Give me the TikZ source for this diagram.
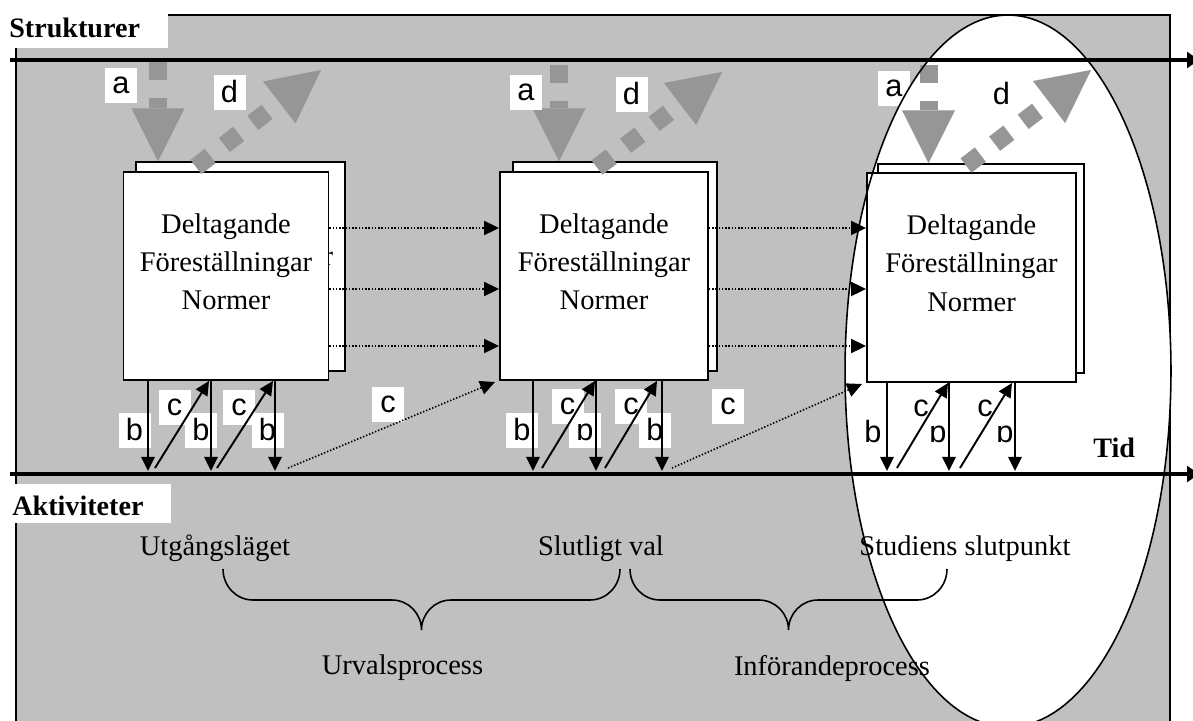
\documentclass[tikz,border=0pt]{standalone}
\usepackage{fontspec}
\setmainfont{Liberation Serif}
\newfontfamily\labelfont{Liberation Sans}
\usetikzlibrary{arrows.meta,calc}
\definecolor{panelgray}{RGB}{192,192,192}
\definecolor{flowgray}{RGB}{150,150,150}
\newcommand{\PX}{0.02cm}

\begin{document}
\begin{tikzpicture}[x=0.02cm,y=-0.02cm,
  axis/.style={line width=2.8pt,-{Triangle[length=6.8pt,width=9pt]}},
  flow/.style={draw=flowgray,line width=10.24pt,dash pattern=on 10.24pt off 10.24pt,
    -{Triangle[length=30pt,width=30pt,line width=0.01pt]}},
  thinarrow/.style={line width=1.1pt,-{Triangle[length=8pt,width=7.6pt]}},
  dotarrow/.style={line width=0.95pt,dash pattern=on 0.8pt off 1.05pt,
    -{Triangle[length=8.5pt,width=8pt]}},
  card/.style={draw,fill=white,line width=1.1pt,inner sep=0pt},
  cardtext/.style={align=center,inner sep=0pt,font=\fontsize{16.2}{21.9}\selectfont},
  lbl/.style={fill=white,inner sep=0pt,minimum width=32*\PX,minimum height=35*\PX,
    font=\labelfont\fontsize{17.5}{18}\selectfont},
  tab/.style={fill=white,inner sep=0pt,anchor=north west},
  headtext/.style={inner sep=0pt,anchor=base west,font=\bfseries\fontsize{16}{18}\selectfont},
  plaintext/.style={inner sep=0pt,anchor=base,font=\fontsize{16.2}{19}\selectfont},
  brace/.style={line width=0.9pt}]
\useasboundingbox (0,0) rectangle (1193,720);
\clip (0,0) rectangle (1193,720);

% grey panel
\fill[panelgray] (16,15) rectangle (1170,740);
\draw[line width=0.9pt] (16,740) -- (16,15) -- (1170,15) -- (1170,740);

% heading tabs
\node[tab,minimum width=168*\PX,minimum height=48*\PX] (tabS) at (0,0) {};
\node[headtext] (strukt) at (9,37) {Strukturer};
\node[tab,minimum width=171*\PX,minimum height=39*\PX] (tabA) at (0,484) {};
\node[headtext] (aktiv) at (12,515) {Aktiviteter};

% end point of the study (filled area)
\fill[white] (1008,371) ellipse [x radius=3.26cm,y radius=7.12cm];

% time axes
\coordinate (topL) at (10,60);  \coordinate (topR) at (1199,60);
\coordinate (botL) at (10,474); \coordinate (botR) at (1199,474);
\draw[axis] (topL) -- (topR);
\draw[axis] (botL) -- (botR);

% cards (a stacked pair at each stage)
\node[card,minimum width=209*\PX,minimum height=209*\PX] (b1back) at (240.5,266.5) {};
% the last letter of the rear card's text peeks out beside the front card
\node[cardtext,anchor=base east] (t1back) at (333.5,265) {r};
\node[card,minimum width=205*\PX,minimum height=208*\PX] (b1) at (226,276) {};
\node[cardtext] (t1) at (226,261.75) {Deltagande\\Föreställningar\\Normer};

\node[card,minimum width=204*\PX,minimum height=209*\PX] (b2back) at (615,266.5) {};
\node[card,minimum width=208*\PX,minimum height=208*\PX] (b2) at (604,276) {};
\node[cardtext] (t2) at (604,261.75) {Deltagande\\Föreställningar\\Normer};

\node[card,minimum width=206*\PX,minimum height=209*\PX] (b3back) at (981,268.5) {};
\node[card,minimum width=209*\PX,minimum height=209*\PX] (b3) at (971.5,277.5) {};
\node[cardtext] (t3) at (971.5,263.25) {Deltagande\\Föreställningar\\Normer};

% grey flows a (down) and d (up)
\coordinate (a1s) at (158,62);   \draw[flow] (a1s) -- (a1s |- b1back.north);
\coordinate (a2s) at (559,65);   \draw[flow] (a2s) -- (a2s |- b2back.north);
\coordinate (a3s) at (928.5,65); \draw[flow] (a3s) -- (a3s |- b3back.north);
\coordinate (d1s) at (196,167);   \coordinate (d1e) at (321,70);
\coordinate (d2s) at (597,167.5); \coordinate (d2e) at (722,72);
\coordinate (d3s) at (966,165.5); \coordinate (d3e) at (1091,70);
\draw[flow] (d1s) -- (d1e);
\draw[flow] (d2s) -- (d2e);
\draw[flow] (d3s) -- (d3e);
\node[lbl] (la1) at (121,85.5) {a};
\node[lbl] (ld1) at (229.5,92) {d};
\node[lbl] (la2) at (526,92) {a};
\node[lbl] (ld2) at (631.5,94) {d};
\node[lbl] (la3) at (894,88) {a};
\node[lbl] (ld3) at (1001.5,94) {d};

% dotted links between cards
\foreach \yy in {228,289,346}{
  \draw[dotarrow] (b1.east |- 0,\yy) -- (b2.west |- 0,\yy);
  \draw[dotarrow] (b2.east |- 0,\yy) -- (b3.west |- 0,\yy);
}
\node[lbl] (lc12) at (388,404) {c};
\node[lbl] (lc23) at (728,406.5) {c};
\coordinate (s12) at (288,468);
\coordinate (s23) at (672,468);
\draw[dotarrow] (s12) -- ($(b2.south west)+(-4,1)$);
\draw[dotarrow] (s23) -- ($(b3.south west)+(-4,1)$);

% labels b and c under the cards
\node[lbl] (lb11) at (134.5,430) {b};
\node[lbl] (lb12) at (201,430) {b};
\node[lbl] (lb13) at (267.5,430) {b};
\node[lbl] (lc11) at (174.5,407.5) {c};
\node[lbl] (lc12b) at (239,407.5) {c};
\node[lbl] (lb21) at (522,430) {b};
\node[lbl] (lb22) at (585,430) {b};
\node[lbl] (lb23) at (655,430) {b};
\node[lbl] (lc21) at (567.5,406) {c};
\node[lbl] (lc22) at (631,406) {c};
\node[lbl] (lb31) at (873,432) {b};
\node[lbl] (lb32) at (938,432) {b};
\node[lbl] (lb33) at (1005,432) {b};
\node[lbl] (lc31) at (921,408) {c};
\node[lbl] (lc32) at (985,408) {c};

% b arrows (card -> activities) and c arrows (activities -> card)
\foreach \xx [count=\i] in {148,211,275,533,596,662,887,949,1015}
  \coordinate (bd\i) at (\xx,471);
\foreach \i in {1,2,3} \draw[thinarrow] (bd\i |- b1.south) -- (bd\i);
\foreach \i in {4,5,6} \draw[thinarrow] (bd\i |- b2.south) -- (bd\i);
\foreach \i in {7,8,9} \draw[thinarrow] (bd\i |- b3.south) -- (bd\i);
\coordinate (cu1) at (155,468); \coordinate (cu2) at (217,468);
\coordinate (cu3) at (542,468); \coordinate (cu4) at (605,468);
\coordinate (cu5) at (897,468); \coordinate (cu6) at (960,468);
\draw[thinarrow] (cu1) -- (209,0 |- b1.south);
\draw[thinarrow] (cu2) -- (273,0 |- b1.south);
\draw[thinarrow] (cu3) -- (595,0 |- b2.south);
\draw[thinarrow] (cu4) -- (657,0 |- b2.south);
\draw[thinarrow] (cu5) -- (948,0 |- b3.south);
\draw[thinarrow] (cu6) -- (1012,0 |- b3.south);

\node[headtext] (tid) at (1093,457) {Tid};

% activities
\node[plaintext] (utg) at (215,555) {Utgångsläget};
\node[plaintext] (val) at (601,555) {Slutligt val};
\node[plaintext] (slut) at (965,555) {Studiens slutpunkt};

% braces
\draw[brace] (223,569) to[out=-90,in=180] (253,600) -- (392,600)
  to[out=0,in=90] (421.5,630) to[out=90,in=180] (451,600) -- (590,600)
  to[out=0,in=-90] (620,569);
\draw[brace] (630,569) to[out=-90,in=180] (660,600) -- (759,600)
  to[out=0,in=90] (788.5,630) to[out=90,in=180] (818,600) -- (917,600)
  to[out=0,in=-90] (947,569);
\node[plaintext] (urv) at (402.5,674) {Urvalsprocess};
\node[plaintext] (inf) at (832,675) {Införandeprocess};

% outline of the end point area
\draw[line width=0.9pt] (1008,371) ellipse [x radius=3.26cm,y radius=7.12cm];
\end{tikzpicture}
\end{document}
